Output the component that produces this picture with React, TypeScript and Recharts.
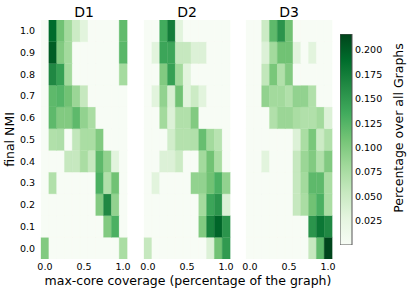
import React from 'react';
import { BarChart, Bar, XAxis, YAxis, Cell, CartesianGrid } from 'recharts';

// x categories (max-core coverage), left to right
const COLUMNS = ['0.0', '0.1', '0.2', '0.3', '0.4', '0.5', '0.6', '0.7', '0.8', '0.9', '1.0'];
// final NMI rows, top to bottom (matches matrix row order)
const NMI_ROWS = [1.0, 0.9, 0.8, 0.7, 0.6, 0.5, 0.4, 0.3, 0.2, 0.1, 0.0];
const PANEL_TITLES = ['D1', 'D2', 'D3'];

const D1 = [
  [0, 0.19, 0.11, 0.08, 0.05, 0.03, 0, 0, 0, 0, 0.118],
  [0, 0.2, 0.1, 0.08, 0, 0, 0, 0, 0, 0, 0.122],
  [0, 0.165, 0.145, 0.08, 0, 0, 0, 0, 0, 0, 0.078],
  [0, 0.12, 0.125, 0.11, 0.085, 0.055, 0, 0, 0, 0, 0],
  [0, 0.12, 0.1, 0.1, 0.12, 0.09, 0.075, 0, 0, 0, 0],
  [0, 0.07, 0.072, 0, 0.058, 0.075, 0.075, 0.1, 0, 0, 0],
  [0, 0, 0, 0.055, 0.055, 0.075, 0.055, 0.12, 0.09, 0.03, 0],
  [0, 0.07, 0, 0, 0, 0, 0, 0.13, 0.07, 0.11, 0],
  [0, 0, 0, 0, 0, 0, 0, 0.1, 0.165, 0.09, 0],
  [0, 0, 0, 0, 0, 0, 0, 0, 0.1, 0.13, 0],
  [0.1, 0, 0, 0, 0, 0, 0, 0, 0, 0, 0.075],
];

const D2 = [
  [0, 0, 0.135, 0.175, 0.03, 0, 0, 0, 0, 0, 0],
  [0, 0.03, 0.14, 0.14, 0.055, 0.055, 0.035, 0.035, 0, 0, 0],
  [0, 0, 0.1, 0.145, 0.08, 0.03, 0, 0, 0, 0, 0],
  [0, 0.03, 0.09, 0.04, 0.11, 0.03, 0.05, 0.03, 0, 0, 0],
  [0, 0, 0.08, 0.035, 0.07, 0.07, 0.1, 0, 0, 0, 0],
  [0, 0, 0, 0.045, 0.068, 0.068, 0.07, 0.115, 0.08, 0.065, 0],
  [0, 0, 0.035, 0.035, 0.05, 0, 0, 0.08, 0.11, 0.075, 0],
  [0, 0.03, 0, 0, 0, 0, 0.09, 0.09, 0.11, 0.13, 0.09],
  [0, 0, 0, 0, 0, 0, 0, 0.08, 0.14, 0.155, 0.035],
  [0, 0, 0, 0, 0, 0, 0, 0.1, 0.17, 0.195, 0.155],
  [0.055, 0, 0, 0, 0, 0, 0, 0, 0.035, 0.11, 0.15],
];

const D3 = [
  [0, 0, 0.05, 0.12, 0.155, 0.11, 0, 0, 0, 0, 0],
  [0, 0, 0.035, 0.08, 0.11, 0.11, 0.03, 0, 0.03, 0, 0],
  [0, 0, 0.058, 0.105, 0.07, 0.1, 0, 0, 0, 0, 0],
  [0, 0, 0.09, 0.08, 0.08, 0.07, 0.09, 0.09, 0.07, 0, 0],
  [0, 0, 0, 0.07, 0.085, 0.085, 0.075, 0.07, 0.07, 0.08, 0.035],
  [0, 0, 0, 0, 0, 0, 0.035, 0.075, 0.105, 0.05, 0.07],
  [0, 0, 0.03, 0, 0, 0, 0.055, 0.085, 0.1, 0.07, 0.1],
  [0, 0, 0, 0, 0, 0, 0.055, 0.08, 0.12, 0.12, 0.075],
  [0, 0, 0, 0, 0, 0, 0.055, 0.075, 0.11, 0.13, 0.075],
  [0, 0, 0, 0, 0, 0, 0, 0, 0.155, 0.18, 0.165],
  [0, 0, 0, 0, 0, 0, 0, 0, 0.055, 0.12, 0.215],
];

const PANELS = [D1, D2, D3];
const COLORBAR_TICKS = [0.025, 0.05, 0.075, 0.1, 0.125, 0.15, 0.175, 0.2];
const COLOR_MAX = 0.2165;
const ROW_SPAN = 0.1;

const GREENS = ['#f7fcf5', '#e5f5e0', '#c7e9c0', '#a1d99b', '#74c476', '#41ab5d', '#238b45', '#006d2c', '#00441b'];

const FONT = '"DejaVu Sans", Verdana, sans-serif';

function hexToRgb(h: string) {
  return [parseInt(h.slice(1, 3), 16), parseInt(h.slice(3, 5), 16), parseInt(h.slice(5, 7), 16)];
}

function greens(v: number) {
  const t = Math.max(0, Math.min(1, v / COLOR_MAX)) * (GREENS.length - 1);
  const i = Math.min(Math.floor(t), GREENS.length - 2);
  const f = t - i;
  const a = hexToRgb(GREENS[i]);
  const b = hexToRgb(GREENS[i + 1]);
  const c = a.map((av, k) => Math.round(av + (b[k] - av) * f));
  return `rgb(${c[0]},${c[1]},${c[2]})`;
}

const ROWS_ASC = [...NMI_ROWS].reverse();
const Y_TICKS = ROWS_ASC.map((n) => n + ROW_SPAN / 2);
const Y_DOMAIN = [0, ROW_SPAN * NMI_ROWS.length];

function buildData() {
  return COLUMNS.map((c) => {
    const o: Record<string, any> = { x: c };
    ROWS_ASC.forEach((_, k) => {
      o['r' + k] = ROW_SPAN;
    });
    return o;
  });
}

const PANEL_W = 86;
const PLOT_TOP = 20;
const PLOT_BOTTOM_SPACE = 34;
const CHART_H = 293;
const PANEL_LEFTS = [41, 144, 246];
const SIDE_PAD = 12;

function Panel({ matrix, showY, left }: { matrix: number[][]; showY: boolean; left: number }) {
  const data = buildData();
  const yw = showY ? 41 : 0;
  const n = NMI_ROWS.length;
  return (
    <div style={{ position: 'absolute', left: left - yw - SIDE_PAD, top: 0 }}>
      <BarChart
        width={PANEL_W + yw + 2 * SIDE_PAD}
        height={CHART_H}
        data={data}
        margin={{ top: PLOT_TOP, right: SIDE_PAD, bottom: 0, left: SIDE_PAD }}
        barCategoryGap={0}
        barGap={0}
      >
        <CartesianGrid fill="#f7fcf5" stroke="none" horizontal={false} vertical={false} xAxisId="b" yAxisId="l" />
        <XAxis xAxisId="bt" dataKey="x" type="category" orientation="bottom" mirror height={0} interval={4}
          tick={false} tickSize={3} axisLine={false} tickLine={{ stroke: '#333', strokeWidth: 0.8 }} />
        <XAxis xAxisId="tt" dataKey="x" type="category" orientation="top" mirror height={0} interval={4}
          tick={false} tickSize={3} axisLine={false} tickLine={{ stroke: '#333', strokeWidth: 0.8 }} />
        <XAxis xAxisId="b" dataKey="x" type="category" orientation="bottom" height={PLOT_BOTTOM_SPACE} interval={4}
          tickSize={0} tickMargin={4.5} axisLine={false} tickLine={false}
          tick={{ fontSize: 9.5, fill: '#000', fontFamily: FONT }} />
        <YAxis yAxisId="lt" type="number" domain={Y_DOMAIN} ticks={Y_TICKS} orientation="left" mirror width={0}
          tick={false} tickSize={3} axisLine={false} tickLine={{ stroke: '#333', strokeWidth: 0.8 }} allowDataOverflow />
        <YAxis yAxisId="rt" type="number" domain={Y_DOMAIN} ticks={Y_TICKS} orientation="right" mirror width={0}
          tick={false} tickSize={3} axisLine={false} tickLine={{ stroke: '#333', strokeWidth: 0.8 }} allowDataOverflow />
        <YAxis yAxisId="l" type="number" domain={Y_DOMAIN} ticks={Y_TICKS} orientation="left" width={yw} hide={!showY}
          tickSize={0} tickMargin={6} axisLine={false} tickLine={false} allowDataOverflow
          tickFormatter={(v: number) => (v - ROW_SPAN / 2).toFixed(1)}
          tick={{ fontSize: 9.5, fill: '#000', fontFamily: FONT }} />
        {ROWS_ASC.map((_, k) => (
          <Bar key={k} xAxisId="b" yAxisId="l" dataKey={'r' + k} stackId="s" isAnimationActive={false}>
            {COLUMNS.map((c, ci) => (
              <Cell key={c} fill={greens(matrix[n - 1 - k][ci])} stroke={greens(matrix[n - 1 - k][ci])} strokeWidth={0.3} />
            ))}
          </Bar>
        ))}
      </BarChart>
    </div>
  );
}

function ColorBar() {
  const data = [{ name: 'cb', v: COLOR_MAX }];
  const top = 34;
  const bottom = 245;
  return (
    <div style={{ position: 'absolute', left: 340, top: 0 }}>
      <BarChart width={12 + 50} height={CHART_H} data={data}
        margin={{ top, right: 0, bottom: CHART_H - bottom, left: 0 }} barCategoryGap={0}>
        <defs>
          <linearGradient id="cbgrad" x1="0" y1="1" x2="0" y2="0">
            {GREENS.map((g, i) => (
              <stop key={g} offset={`${(i / (GREENS.length - 1)) * 100}%`} stopColor={g} />
            ))}
          </linearGradient>
        </defs>
        <XAxis dataKey="name" hide />
        <YAxis yAxisId="rt" type="number" domain={[0, COLOR_MAX]} ticks={COLORBAR_TICKS} orientation="right" mirror width={0}
          tick={false} tickSize={3} axisLine={false} tickLine={{ stroke: '#333', strokeWidth: 0.8 }} allowDataOverflow />
        <YAxis yAxisId="r" type="number" domain={[0, COLOR_MAX]} ticks={COLORBAR_TICKS} orientation="right" width={50}
          tickSize={0} tickMargin={3} axisLine={false} tickLine={false} allowDataOverflow
          tickFormatter={(v: number) => v.toFixed(3)}
          tick={{ fontSize: 9.5, fill: '#000', fontFamily: FONT, textAnchor: 'start' }} />
        <Bar yAxisId="r" dataKey="v" fill="url(#cbgrad)" stroke="#555" strokeWidth={1} isAnimationActive={false} />
      </BarChart>
    </div>
  );
}

export default function App() {
  return (
    <div style={{ position: 'absolute', left: 0, top: 0, width: 409, height: 293, background: '#fff', fontFamily: FONT, overflow: 'hidden' }}>
      {PANELS.map((m, i) => (
        <Panel key={i} matrix={m} showY={i === 0} left={PANEL_LEFTS[i]} />
      ))}
      <ColorBar />
      <svg width={409} height={293} style={{ position: 'absolute', left: 0, top: 0, pointerEvents: 'none' }}>
        {PANEL_TITLES.map((t, i) => (
          <text key={t} x={PANEL_LEFTS[i] + PANEL_W / 2} y={16.5} textAnchor="middle" fontSize={14} fontFamily={FONT} fill="#000">
            {t}
          </text>
        ))}
        <text x={188} y={285} textAnchor="middle" fontSize={12.5} fontFamily={FONT} fill="#000">
          max-core coverage (percentage of the graph)
        </text>
        <text transform="translate(14,139.5) rotate(-90)" textAnchor="middle" fontSize={12.5} fontFamily={FONT} fill="#000">
          final NMI
        </text>
        <text transform="translate(403,128) rotate(-90)" textAnchor="middle" fontSize={12.5} fontFamily={FONT} fill="#000">
          Percentage over all Graphs
        </text>
      </svg>
    </div>
  );
}
